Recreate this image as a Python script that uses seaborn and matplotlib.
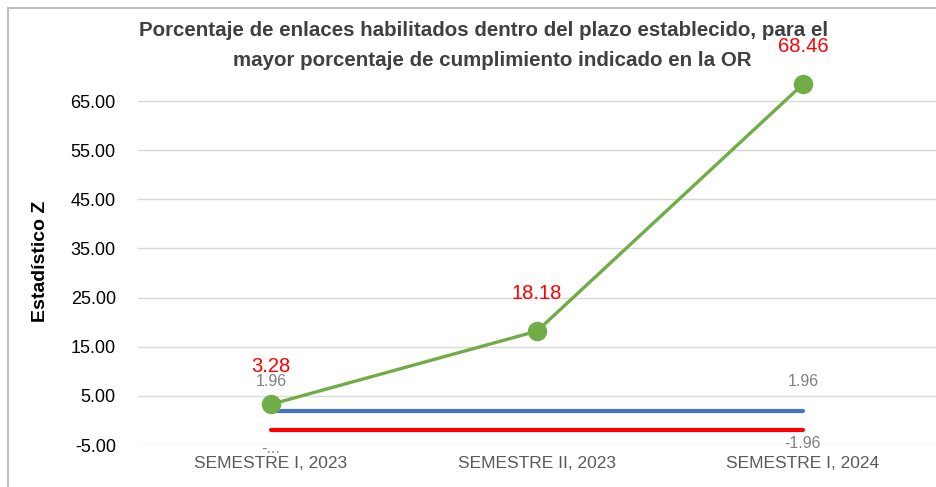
import matplotlib
matplotlib.use("Agg")
import matplotlib.pyplot as plt
from matplotlib.patches import Rectangle
import seaborn as sns
import pandas as pd

# Data
periodos = ["SEMESTRE I, 2023", "SEMESTRE II, 2023", "SEMESTRE I, 2024"]
z_obtenido = [3.28, 18.18, 68.46]
z_superior = [1.96, 1.96, 1.96]
z_inferior = [-1.96, -1.96, -1.96]
y_ticks = [-5, 5, 15, 25, 35, 45, 55, 65]

sns.set_theme(style="white")
plt.rcParams["font.family"] = ["Liberation Sans", "DejaVu Sans"]

df = pd.DataFrame({
    "periodo": periodos,
    "z": z_obtenido,
    "sup": z_superior,
    "inf": z_inferior,
})

fig = plt.figure(figsize=(9.37, 4.87), dpi=100)
ax = fig.add_axes([138 / 937, 1 - 445 / 487, (936 - 138) / 937, (445 - 52) / 487])

# Critical value lines
sns.lineplot(data=df, x="periodo", y="sup", ax=ax, color="#4472c4", linewidth=3.0,
             sort=False, zorder=2)
sns.lineplot(data=df, x="periodo", y="inf", ax=ax, color="#ff0000", linewidth=3.0,
             sort=False, zorder=2)
# Observed Z statistic
sns.lineplot(data=df, x="periodo", y="z", ax=ax, color="#70ad47", linewidth=2.4,
             marker="o", markersize=14, markeredgewidth=0, sort=False, zorder=3)

ax.set_xlim(-0.5, 2.5)
ax.set_ylim(-5, 75)
ax.set_yticks(y_ticks)
ax.set_yticklabels([f"{v:.2f}" for v in y_ticks], fontsize=13, color="#000000")
ax.set_xticks(range(len(periodos)))
ax.set_xticklabels(periodos, fontsize=12.5, color="#595959")
ax.tick_params(axis="x", length=0, pad=8)
ax.tick_params(axis="y", length=0, pad=16)
ax.grid(axis="y", color="#d9d9d9", linewidth=1)
ax.grid(axis="x", visible=False)
for s in ax.spines.values():
    s.set_visible(False)
ax.set_xlabel("")
ax.set_ylabel("")
fig.text(40.5 / 937, 1 - 261 / 487, "Estadístico Z", rotation=90, ha="center",
         va="center", fontsize=14, fontweight="bold", color="#000000")

# Value labels
for i, v in enumerate(z_obtenido):
    ax.annotate(f"{v:.2f}", (i, v), xytext=(0, 27), textcoords="offset points",
                ha="center", va="center", fontsize=14.5, color="#ff0000")
for i in (0, 2):
    ax.annotate(f"{z_superior[i]:.2f}", (i, z_superior[i]), xytext=(0, 21),
                textcoords="offset points", ha="center", va="center",
                fontsize=11.5, color="#808080")
ax.annotate("-...", (0, z_inferior[0]), xytext=(0, -13), textcoords="offset points",
            ha="center", va="center", fontsize=11.5, color="#808080")
ax.annotate(f"{z_inferior[2]:.2f}", (2, z_inferior[2]), xytext=(0, -10),
            textcoords="offset points", ha="center", va="center",
            fontsize=11.5, color="#808080")

# Title
fig.text(484 / 937, 1 - 30 / 487,
         "Porcentaje de enlaces habilitados dentro del plazo establecido, para el",
         ha="center", va="center", fontsize=14.8, fontweight="bold", color="#404040")
fig.text(492 / 937, 1 - 61 / 487,
         "mayor porcentaje de cumplimiento indicado en la OR",
         ha="center", va="center", fontsize=14.8, fontweight="bold", color="#404040")

# Chart frame
fig.patches.append(Rectangle((8 / 937, -0.1), 1.2, 1 - 8 / 487 + 0.1,
                             transform=fig.transFigure, fill=False,
                             edgecolor="#c0c0c0", linewidth=1.5))

fig.savefig("out.png", dpi=100)
